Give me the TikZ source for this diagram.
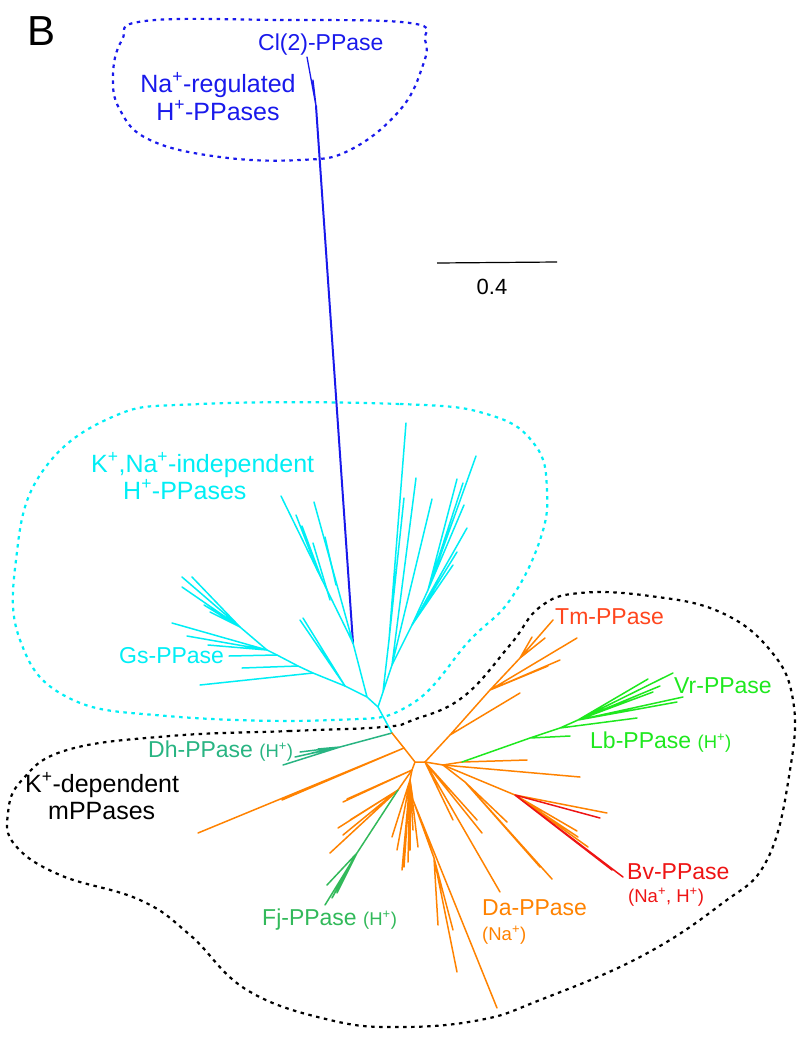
\documentclass[tikz,border=0pt]{standalone}
\usepackage{fontspec}
\setmainfont{Liberation Sans}
\definecolor{cblue}{RGB}{25,25,235}
\definecolor{ccyan}{RGB}{0,238,245}
\definecolor{corange}{RGB}{255,130,0}
\definecolor{cgreen}{RGB}{30,232,30}
\definecolor{cteal}{RGB}{40,180,130}
\definecolor{cfj}{RGB}{50,185,90}
\definecolor{cred}{RGB}{238,20,20}
\definecolor{ctm}{RGB}{255,70,30}
\tikzset{
  brch/.style={line width=1.5pt,line cap=round,line join=round},
  tbl/.style={brch,cblue,line width=2pt},
  tcy/.style={brch,ccyan},
  tor/.style={brch,corange},
  tgr/.style={brch,cgreen},
  tte/.style={brch,cteal},
  tfj/.style={brch,cfj},
  trd/.style={brch,cred},
  outl/.style={line width=2.2pt,dash pattern=on 3.5pt off 4.5pt},
  lab/.style={anchor=base west,inner sep=0pt,font=\fontsize{23}{27}\selectfont},
  glab/.style={anchor=base west,inner sep=0pt,font=\fontsize{25}{29}\selectfont},
  slab/.style={anchor=base west,inner sep=0pt,font=\fontsize{18.5}{22}\selectfont}
}
\begin{document}
\begin{tikzpicture}[x=1pt,y=-1pt]
\useasboundingbox (0,0) rectangle (799,1047);

% ---- dashed outlines ----
\draw[outl,cblue] plot[smooth cycle,tension=0.7] coordinates {
 (145,21) (280,20) (410,23) (425,40) (423,65) (400,110) (350,150) (300,160)
 (220,157) (150,140) (120,110) (113,75) (122,40)};
\draw[outl,ccyan] plot[smooth cycle,tension=0.7] coordinates {
 (200,404) (400,404) (490,415) (535,445) (547,490) (540,540) (510,600)
 (470,640) (410,705) (333,720) (167,716) (67,697) (20,640) (16,560)
 (40,475) (110,418)};
\draw[outl,black] plot[smooth cycle,tension=0.7] coordinates {
 (383,727) (290,731) (170,736) (67,750) (22,780) (8,813) (15,845)
 (60,875) (140,900) (190,935) (247,990) (330,1020) (400,1027) (480,1020)
 (540,1000) (640,957) (720,905) (767,860) (790,770) (793,700) (770,650)
 (720,612) (650,596) (580,593) (540,607) (510,645) (463,697) (413,720)};

% ---- internal node coordinates ----
\coordinate (r)  at (392,733);
\coordinate (c1) at (378,707);
\coordinate (c2) at (367,697);
\coordinate (bj) at (353,643);
\coordinate (bt) at (316,106);
\coordinate (c3) at (345,686);
\coordinate (c4) at (383,692);
\coordinate (c5) at (389,640);
\coordinate (c6) at (392,665);
\coordinate (c7) at (412,625);
\coordinate (c8) at (428,590);
\coordinate (g1) at (313,673);
\coordinate (g2) at (298,666);
\coordinate (g3) at (277,655);
\coordinate (g4) at (267,650);
\coordinate (g5) at (240,627);
\coordinate (dh) at (340,747);
\coordinate (oM) at (404,748);
\coordinate (oA) at (415,762);
\coordinate (oB) at (425,762);
\coordinate (oC) at (412,770);
\coordinate (oG) at (410,780);
\coordinate (oD) at (413,800);
\coordinate (oF) at (398,790);
\coordinate (fj) at (357,853);
\coordinate (cc) at (434,858);
\coordinate (t1) at (450,735);
\coordinate (t2) at (490,690);
\coordinate (t3) at (520,658);
\coordinate (o1) at (443,765);
\coordinate (g0) at (462,762);
\coordinate (gg1) at (530,738);
\coordinate (gg2) at (560,728);
\coordinate (gg3) at (578,720);
\coordinate (o4) at (515,795);
\coordinate (o6) at (465,782);

% ---- blue ----
\draw[tbl] (bj) -- (bt);
\draw[tbl,line width=1.3pt] (bt)--(307,57) (bt)--(313,80);

% ---- cyan ----
\draw[tcy] (r)--(c1)--(c2)--(bj) (c2)--(c3) (c1)--(c4)--(c5) (c4)--(c6) (c6)--(c7)--(c8);
\draw[tcy] (bj)--(281,496) (bj)--(314,502);
\draw[tcy] (318,572)--(296,515) (322,580)--(302,526) (330,600)--(313,543) (336,585)--(325,537);
\draw[tcy] (c3)--(g1)--(g2)--(g3)--(g4)--(g5);
\draw[tcy] (c3)--(300,620) (c3)--(303,618);
\draw[tcy] (g1)--(200,685) (g2)--(242,668) (g3)--(229,656) (g4)--(208,645)
  (g4)--(187,636) (g4)--(172,623) (g5)--(182,577) (g5)--(192,577)
  (g5)--(182,587) (g5)--(204,605) (g5)--(210,612);
\draw[tcy] (c5)--(406,423) (c5)--(404,498) (c6)--(416,478) (c6)--(432,499)
  (c7)--(453,565) (c7)--(457,552) (c7)--(467,528) (c8)--(464,505)
  (c8)--(457,479) (c8)--(463,483) (c8)--(476,456);

% ---- teal Dh ----
\draw[tte] (r)--(dh) (dh)--(283,765) (dh)--(300,752) (dh)--(312,753) (dh)--(318,749) (dh)--(295,757);

% ---- orange ----
\draw[tor] (r)--(oM)--(oA)--(oB) (oA)--(oC)--(oG)--(oD);
\draw[tor] (oM)--(198,833) (oM)--(282,800);
\draw[tor] (oC)--(343,802) (oC)--(347,799);
\draw[tor] (oC)--(oF) (oF)--(330,853) (oF)--(338,828) (oF)--(343,835) (oF)--(350,820);
\draw[tfj] (oF)--(fj) (fj)--(325,905) (fj)--(327,885) (fj)--(337,893) (fj)--(332,898);
\draw[tor] (oG)--(392,837) (oG)--(397,850) (oG)--(402,870) (oG)--(404,867)
  (oG)--(408,862) (oG)--(410,850) (oG)--(418,847) (oG)--(413,830);
\draw[tor] (oD)--(497,1008) (oD)--(cc) (cc)--(438,925) (cc)--(453,930) (cc)--(457,972);
% Tm cluster
\draw[tor] (oB)--(t1)--(t2)--(t3) (t1)--(520,693) (t2)--(560,660) (t2)--(577,638)
  (t3)--(553,620) (t3)--(545,638) (t3)--(532,637) (t2)--(548,666);
% Vr / Lb
\draw[tor] (oB)--(o1) (o1)--(g0) (g0)--(527,760);
\draw[tgr] (g0)--(gg1)--(gg2)--(gg3) (gg1)--(570,736) (gg2)--(637,718)
  (gg3)--(673,673) (gg3)--(648,679) (gg3)--(653,692) (gg3)--(683,697)
  (gg3)--(677,702) (gg3)--(660,686);
% lower right / Bv
\draw[tor] (o1)--(580,777);
\draw[tor] (o1)--(o4) (o4)--(607,813) (o4)--(577,831) (o4)--(578,837) (o4)--(588,847);
\draw[trd] (o4)--(600,818) (o4)--(623,877) (o4)--(612,870);
\draw[tor] (oB)--(453,820) (oB)--(477,820) (oB)--(482,833) (oB)--(500,892);
\draw[tor] (o1)--(o6) (o6)--(540,867) (o6)--(530,855) (o6)--(552,879) (o6)--(507,822);

% ---- scale bar ----
\coordinate (sb1) at (437,263);
\coordinate (sb2) at (557,262);
\draw[line width=1.2pt] (sb1) -- (sb2);
\node[anchor=base,inner sep=0pt,font=\fontsize{22}{26}\selectfont] (sbl) at (492,294) {0.4};

% ---- labels ----
\node[anchor=base west,inner sep=0pt,font=\fontsize{42}{42}\selectfont] (lB) at (27,45) {B};
\node[lab,text=cblue] (lCl) at (258,50) {Cl(2)-PPase};
\node[glab,text=cblue,anchor=base] (lNa1) at (218,92) {Na\textsuperscript{+}-regulated};
\node[glab,text=cblue,anchor=base] (lNa2) at (218,120) {H\textsuperscript{+}-PPases};
\node[glab,text=ccyan] (lK1) at (91,472) {K\textsuperscript{+},Na\textsuperscript{+}-independent};
\node[glab,text=ccyan] (lK2) at (123,499) {H\textsuperscript{+}-PPases};
\node[lab,text=ccyan] (lGs) at (119,663) {Gs-PPase};
\node[lab,text=ctm] (lTm) at (555,624) {Tm-PPase};
\node[lab,text=cgreen] (lVr) at (674,693) {Vr-PPase};
\node[lab,text=cgreen] (lLb) at (590,748) {Lb-PPase {\fontsize{18.5}{22}\selectfont(H\textsuperscript{+})}};
\node[lab,text=cteal] (lDh) at (148,757) {Dh-PPase {\fontsize{18.5}{22}\selectfont(H\textsuperscript{+})}};
\node[glab] (lKd1) at (25,792) {K\textsuperscript{+}-dependent};
\node[glab] (lKd2) at (48,819) {mPPases};
\node[lab,text=cfj] (lFj) at (262,925) {Fj-PPase {\fontsize{18.5}{22}\selectfont(H\textsuperscript{+})}};
\node[lab,text=corange] (lDa) at (482,915) {Da-PPase};
\node[slab,text=corange] (lDa2) at (482,940) {(Na\textsuperscript{+})};
\node[lab,text=cred] (lBv) at (627,879) {Bv-PPase};
\node[slab,text=cred] (lBv2) at (628,902) {(Na\textsuperscript{+}, H\textsuperscript{+})};
\end{tikzpicture}
\end{document}
